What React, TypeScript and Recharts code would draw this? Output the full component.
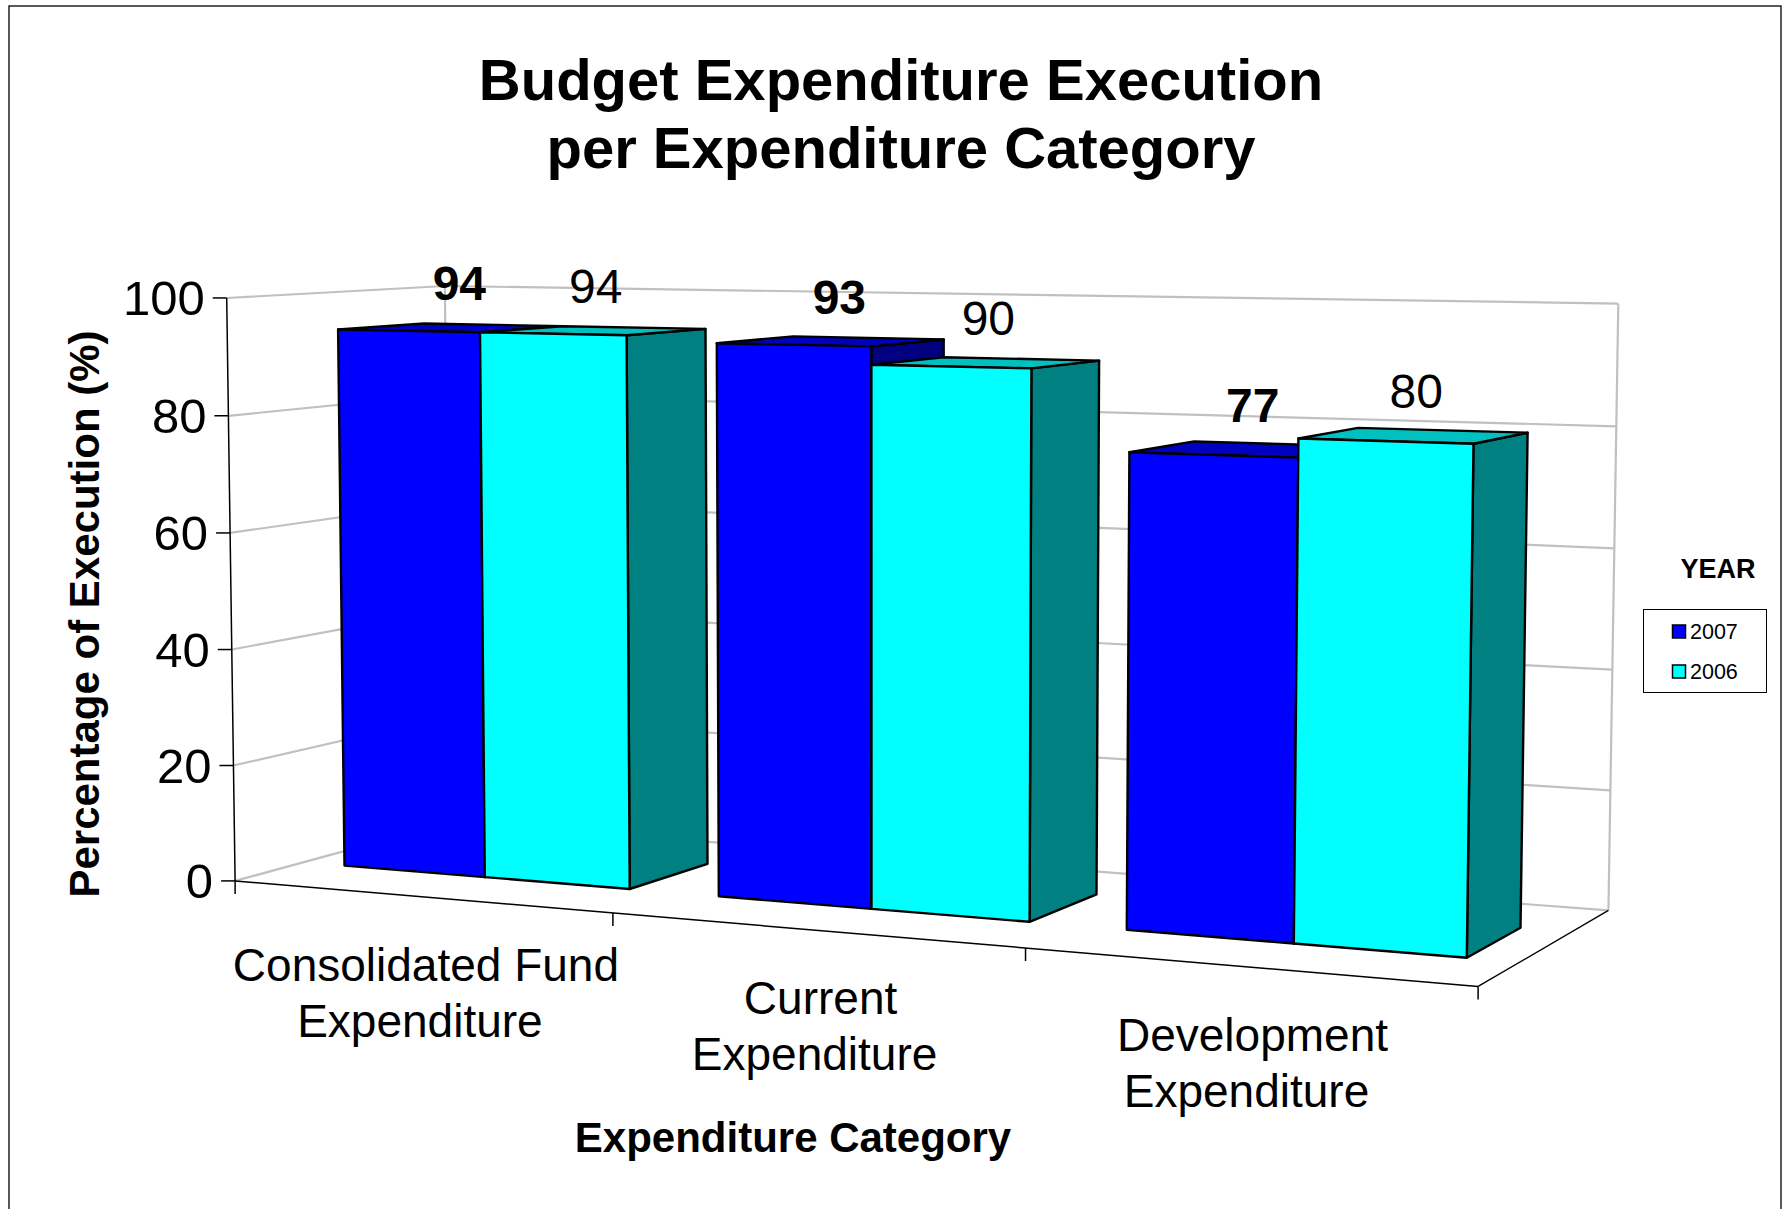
import { BarChart, Bar, XAxis, YAxis, LabelList } from "recharts";

const CATEGORIES = ["Consolidated Fund Expenditure", "Current Expenditure", "Development Expenditure"];
const Y2007 = [94, 93, 77];
const Y2006 = [94, 90, 80];
const Y_TICKS = [0, 20, 40, 60, 80, 100];

const W = 1784;
const H = 1209;
const FONT = '"Liberation Sans", Arial, sans-serif';

// recharts plot box; every mark is re-projected from it into the 3-D view
const PL = 100;
const XAXIS_H = 100;
const PW = W - PL;
const PH = H - XAXIS_H;
const BAND = PW / CATEGORIES.length;
const Z_FRONT = 0.3;
const Z_BACK = 0.7;

type V3 = [number, number, number];

// screen anchors of the 3-D box (x: categories 0..3, y: 0..1 of value axis, z: 0 front..1 back)
const ANCHORS: [V3, [number, number]][] = [
  [[0, 1, 0], [226.7, 298.3]],
  [[0, 0.8, 0], [228.4, 415.3]],
  [[0, 0.6, 0], [230.0, 533.6]],
  [[0, 0.4, 0], [231.7, 649.7]],
  [[0, 0.2, 0], [233.3, 764.6]],
  [[0, 0, 0], [235, 880.7]],
  [[1, 0, 0], [613.3, 913.3]],
  [[2, 0, 0], [1025.7, 948.5]],
  [[3, 0, 0], [1478, 986]],
  [[0, 1, 1], [445, 286]],
  [[3, 1, 1], [1618.3, 303.3]],
  [[3, 0, 1], [1608.3, 910.7]],
];

function fitCamera() {
  const n = 11;
  const A = Array.from({ length: n }, () => new Array(n + 1).fill(0));
  const add = (r: number[], b: number) => {
    for (let i = 0; i < n; i++) {
      for (let j = 0; j < n; j++) A[i][j] += r[i] * r[j];
      A[i][n] += r[i] * b;
    }
  };
  for (const [[X, Y, Z], [u0, v0]] of ANCHORS) {
    const u = u0 / 1000;
    const v = v0 / 1000;
    add([X, Y, Z, 1, 0, 0, 0, 0, -u * X, -u * Y, -u * Z], u);
    add([0, 0, 0, 0, X, Y, Z, 1, -v * X, -v * Y, -v * Z], v);
  }
  for (let c = 0; c < n; c++) {
    let p = c;
    for (let r = c + 1; r < n; r++) if (Math.abs(A[r][c]) > Math.abs(A[p][c])) p = r;
    [A[c], A[p]] = [A[p], A[c]];
    for (let r = 0; r < n; r++) {
      if (r === c) continue;
      const f = A[r][c] / A[c][c];
      for (let j = c; j <= n; j++) A[r][j] -= f * A[c][j];
    }
  }
  return A.map((row, i) => row[n] / row[i]);
}

const M = fitCamera();

function proj([X, Y, Z]: V3): [number, number] {
  const w = M[8] * X + M[9] * Y + M[10] * Z + 1;
  return [
    ((M[0] * X + M[1] * Y + M[2] * Z + M[3]) / w) * 1000,
    ((M[4] * X + M[5] * Y + M[6] * Z + M[7]) / w) * 1000,
  ];
}

const pts = (arr: V3[]) => arr.map((p) => proj(p).map((v) => v.toFixed(1)).join(",")).join(" ");
const NX = CATEGORIES.length;

const data = CATEGORIES.map((name, i) => ({ name, y2007: Y2007[i], y2006: Y2006[i] }));

const boxShape = (front: string, top: string, side: string) => (props: any) => {
  const { x, y, width, height } = props;
  if (width == null || height == null) return <g />;
  const x0 = (x - PL) / BAND;
  const x1 = (x + width - PL) / BAND;
  const yt = (PH - y) / PH;
  const yb = (PH - y - height) / PH;
  const common = { stroke: "#000", strokeWidth: 2.4, strokeLinejoin: "round" as const };
  return (
    <g>
      <polygon
        points={pts([[x1, yb, Z_FRONT], [x1, yb, Z_BACK], [x1, yt, Z_BACK], [x1, yt, Z_FRONT]])}
        fill={side}
        {...common}
      />
      <polygon
        points={pts([[x0, yt, Z_FRONT], [x1, yt, Z_FRONT], [x1, yt, Z_BACK], [x0, yt, Z_BACK]])}
        fill={top}
        {...common}
      />
      <polygon
        points={pts([[x0, yb, Z_FRONT], [x1, yb, Z_FRONT], [x1, yt, Z_FRONT], [x0, yt, Z_FRONT]])}
        fill={front}
        {...common}
      />
    </g>
  );
};

const barLabel = (bold: boolean) => (props: any) => {
  const vb = props.viewBox || {};
  const x = props.x ?? vb.x;
  const y = props.y ?? vb.y;
  const width = props.width ?? vb.width;
  if (x == null || y == null || width == null) return null;
  const xm = (x + width / 2 - PL) / BAND;
  const yt = (PH - y) / PH;
  const [u, v] = proj([xm, yt, (Z_FRONT + Z_BACK) / 2]);
  return (
    <text
      x={u + (bold ? 8 : 2)}
      y={v - 44}
      textAnchor="middle"
      dominantBaseline="central"
      fontFamily={FONT}
      fontSize={48}
      fontWeight={bold ? "bold" : "normal"}
      fill="#000"
    >
      {props.value}
    </text>
  );
};

const YTick = (props: any) => {
  const val = Number(props.payload?.value);
  const [u, v] = proj([0, val / 100, 0]);
  return (
    <g>
      <line x1={u - 14} y1={v} x2={u} y2={v} stroke="#000" strokeWidth={1.5} />
      <text x={u - 22} y={v} textAnchor="end" dominantBaseline="central" fontFamily={FONT} fontSize={49} fill="#000">
        {val}
      </text>
    </g>
  );
};

const XTick = (props: any) => {
  const name = String(props.payload?.value ?? "");
  const i = CATEGORIES.indexOf(name);
  if (i < 0) return <g />;
  const [u, v] = proj([i + 0.5, 0, 0]);
  const cut = name.lastIndexOf(" ");
  const lines = [name.slice(0, cut), name.slice(cut + 1)];
  return (
    <text x={u} y={v + 68} textAnchor="middle" fontFamily={FONT} fontSize={46} fill="#000" dominantBaseline="central">
      {lines.map((l, k) => (
        <tspan key={k} x={k === 0 ? u + 6 : u} dy={k === 0 ? 0 : 56}>
          {l}
        </tspan>
      ))}
    </text>
  );
};

function Walls() {
  const gray = { stroke: "#C0C0C0", strokeWidth: 2.2, fill: "none" };
  const seg = (a: V3, b: V3) => {
    const [x1, y1] = proj(a);
    const [x2, y2] = proj(b);
    return { x1, y1, x2, y2 };
  };
  return (
    <g>
      {Y_TICKS.map((t) => (
        <polyline key={t} points={pts([[0, t / 100, 0], [0, t / 100, 1], [NX, t / 100, 1]])} {...gray} />
      ))}
      <line {...seg([0, 0, 1], [0, 1, 1])} {...gray} />
      <line {...seg([NX, 0, 1], [NX, 1, 1])} {...gray} />
      <line {...seg([0, 0, 0], [NX, 0, 0])} stroke="#000" strokeWidth={1.5} />
      <line {...seg([NX, 0, 0], [NX, 0, 1])} stroke="#000" strokeWidth={1.3} />
      <line {...seg([0, 0, 0], [0, 1, 0])} stroke="#000" strokeWidth={1.5} />
      {Array.from({ length: NX + 1 }, (_, i) => {
        const [u, v] = proj([i, 0, 0]);
        return <line key={i} x1={u} y1={v} x2={u} y2={v + 13} stroke="#000" strokeWidth={1.5} />;
      })}
    </g>
  );
}

export default function App() {
  return (
    <div style={{ position: "relative", width: W, height: H, background: "#fff", overflow: "hidden" }}>
      <style>{"body{margin:0}"}</style>
      <svg width={W} height={H} style={{ position: "absolute", left: 0, top: 0 }}>
        <rect x={9} y={6} width={1772} height={1220} fill="#fff" stroke="#222" strokeWidth={1.5} />
        <text x={901} y={100} textAnchor="middle" fontFamily={FONT} fontSize={58} fontWeight="bold">
          Budget Expenditure Execution
        </text>
        <text x={901} y={168} textAnchor="middle" fontFamily={FONT} fontSize={58} fontWeight="bold">
          per Expenditure Category
        </text>
        <Walls />
        <text
          x={84}
          y={614}
          transform="rotate(-90 84 614)"
          textAnchor="middle"
          dominantBaseline="central"
          fontFamily={FONT}
          fontSize={42}
          fontWeight="bold"
        >
          Percentage of Execution (%)
        </text>
        <text x={793} y={1152} textAnchor="middle" fontFamily={FONT} fontSize={42} fontWeight="bold">
          Expenditure Category
        </text>
        <text x={1718} y={569} textAnchor="middle" dominantBaseline="central" fontFamily={FONT} fontSize={27} fontWeight="bold">
          YEAR
        </text>
        <rect x={1643.5} y={609.5} width={123} height={83} fill="#fff" stroke="#000" strokeWidth={1} />
        <rect x={1672.5} y={625} width={13} height={13} fill="#0000FF" stroke="#000" strokeWidth={1.5} />
        <text x={1690} y={632} dominantBaseline="central" fontFamily={FONT} fontSize={21.5}>
          2007
        </text>
        <rect x={1672.5} y={665} width={13} height={13} fill="#00FFFF" stroke="#000" strokeWidth={1.5} />
        <text x={1690} y={672} dominantBaseline="central" fontFamily={FONT} fontSize={21.5}>
          2006
        </text>
      </svg>
      <div style={{ position: "absolute", left: 0, top: 0 }}>
        <BarChart
          width={W}
          height={H}
          data={data}
          margin={{ top: 0, right: 0, bottom: 0, left: 0 }}
          barCategoryGap="11.5%"
          barGap={0}
        >
          <XAxis dataKey="name" height={XAXIS_H} interval={0} axisLine={false} tickLine={false} tick={XTick} />
          <YAxis
            width={PL}
            domain={[0, 100]}
            ticks={Y_TICKS}
            interval={0}
            axisLine={false}
            tickLine={false}
            tick={YTick}
          />
          <Bar dataKey="y2007" fill="#0000FF" isAnimationActive={false} shape={boxShape("#0000FF", "#0000C0", "#000080")}>
            <LabelList dataKey="y2007" content={barLabel(true)} />
          </Bar>
          <Bar dataKey="y2006" fill="#00FFFF" isAnimationActive={false} shape={boxShape("#00FFFF", "#00C0C0", "#008080")}>
            <LabelList dataKey="y2006" content={barLabel(false)} />
          </Bar>
        </BarChart>
      </div>
    </div>
  );
}
